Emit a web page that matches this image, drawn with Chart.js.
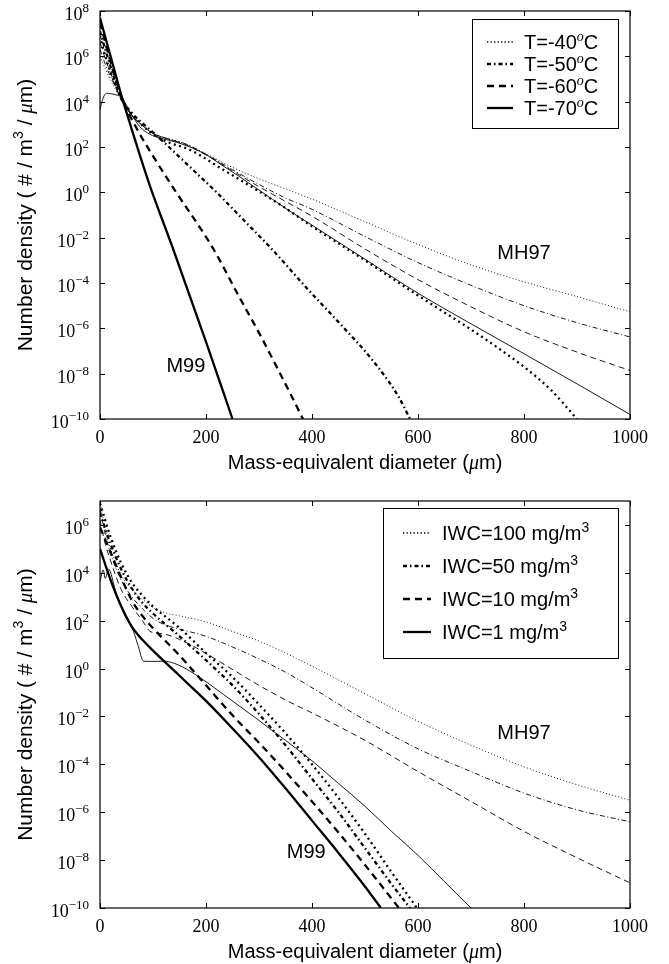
<!DOCTYPE html>
<html>
<head>
<meta charset="utf-8">
<title>Ice particle size distributions</title>
<script src="https://cdn.jsdelivr.net/npm/chart.js@4.4.1/dist/chart.umd.min.js"></script>
<style>
  html, body { margin: 0; padding: 0; background: #fff; }
  canvas { display: block; }
</style>
</head>
<body>
<canvas id="byTemp" width="669" height="482"></canvas>
<canvas id="byIwc" width="669" height="482"></canvas>
<script>
// Axis ticks
const xTicks = [0, 200, 400, 600, 800, 1000];
const yExpTemp = [-10, -8, -6, -4, -2, 0, 2, 4, 6, 8];
const yExpIwc = [-10, -8, -6, -4, -2, 0, 2, 4, 6];

// Legend labels
const tempLabels = ['T=-40', 'T=-50', 'T=-60', 'T=-70'];
const iwcLabels = ['IWC=100 mg/m', 'IWC=50 mg/m', 'IWC=10 mg/m', 'IWC=1 mg/m'];

// Diameters in um, number densities as log10(#/m3/um)
// --- temperature panel, MH97 (thin)
const dThinT = [0, 10, 20, 30, 40, 60, 80, 100, 130, 160, 200, 250, 300, 350, 400, 500, 600, 700, 800, 900, 1000];
const mh97T40 = [6.0, 5.45, 4.95, 4.5, 4.1, 3.4, 2.95, 2.6, 2.35, 2.15, 1.7, 1.1, 0.6, 0.15, -0.3, -1.3, -2.3, -3.2, -3.95, -4.6, -5.27];
const mh97T50 = [6.3, 5.65, 5.1, 4.6, 4.1, 3.4, 2.95, 2.6, 2.35, 2.15, 1.68, 1.0, 0.35, -0.25, -0.75, -1.95, -3.1, -4.1, -5.0, -5.75, -6.38];
const mh97T60 = [6.6, 5.9, 5.25, 4.65, 4.1, 3.4, 2.95, 2.6, 2.35, 2.12, 1.65, 0.95, 0.25, -0.4, -1.05, -2.5, -3.85, -5.05, -6.15, -7.05, -7.86];
const dThinT70 = [0, 5, 12, 20, 30, 41, 55, 75, 95, 110, 130, 151, 175, 201, 230, 264, 300, 350, 400, 500, 600, 700, 800, 900, 1000];
const mh97T70 = [3.65, 4.1, 4.37, 4.35, 4.3, 4.2, 3.6, 2.9, 2.55, 2.42, 2.3, 2.16, 1.95, 1.65, 1.2, 0.68, 0.1, -0.7, -1.45, -2.95, -4.45, -5.8, -7.12, -8.45, -9.8];
// --- temperature panel, M99 (thick)
const dM99T40 = [0, 10, 20, 30, 40, 60, 80, 107, 130, 170, 233, 296, 350, 400, 500, 600, 650, 700, 750, 800, 850, 900];
const m99T40 = [6.9, 6.0, 5.3, 4.7, 4.15, 3.45, 2.95, 2.46, 2.2, 1.87, 0.99, 0.1, -0.7, -1.5, -3.0, -4.55, -5.3, -6.05, -6.85, -7.7, -8.7, -10];
const dM99T50 = [0, 10, 20, 30, 40, 60, 80, 100, 130, 175, 220, 270, 324, 393, 457, 514, 563, 585];
const m99T50 = [7.1, 6.3, 5.55, 4.8, 4.15, 3.5, 3.05, 2.65, 2.0, 1.0, 0.0, -1.2, -2.5, -4.3, -5.9, -7.4, -9.0, -10];
const dM99T60 = [0, 10, 20, 30, 45, 72, 100, 141, 214, 260, 300, 340, 383];
const m99T60 = [7.5, 6.6, 5.75, 4.95, 3.95, 2.7, 1.6, 0.1, -2.5, -4.5, -6.2, -8.0, -10];
const dM99T70 = [0, 10, 20, 30, 41, 57, 75, 94, 138, 200, 250];
const m99T70 = [7.7, 6.85, 6.0, 5.15, 4.22, 3.0, 1.65, 0.3, -2.5, -6.6, -10];

// --- IWC panel, MH97 (thin)
const dThinIwc = [0, 10, 20, 40, 60, 80, 100, 120, 150, 200, 250, 300, 350, 400, 500, 600, 700, 800, 900, 1000];
const mh97Iwc100 = [7.0, 5.8, 5.0, 3.9, 3.3, 2.9, 2.55, 2.35, 2.2, 1.95, 1.55, 1.15, 0.65, 0.1, -1.05, -2.2, -3.2, -4.1, -4.85, -5.5];
const mh97Iwc50 = [6.7, 5.6, 4.8, 3.7, 3.0, 2.5, 2.1, 1.85, 1.65, 1.35, 0.9, 0.4, -0.15, -0.8, -2.15, -3.35, -4.3, -5.2, -5.9, -6.4];
const dThinIwc10 = [0, 10, 20, 40, 60, 80, 94, 110, 132, 150, 182, 245, 300, 358, 400, 500, 600, 700, 800, 900, 1000];
const mh97Iwc10 = [6.2, 5.2, 4.5, 3.3, 2.6, 2.0, 1.56, 1.48, 1.38, 1.22, 0.86, 0.03, -0.7, -1.4, -1.85, -3.0, -4.3, -5.55, -6.8, -7.9, -8.95];
const dThinIwc1 = [0, 6, 10, 16, 30, 45, 63, 72, 82, 100, 120, 140, 170, 200, 233, 296, 350, 400, 450, 500, 550, 600, 650, 700];
const mh97Iwc1 = [3.64, 4.12, 3.77, 4.15, 3.2, 2.3, 1.56, 0.95, 0.31, 0.3, 0.31, 0.22, -0.11, -0.55, -1.08, -2.1, -3.0, -3.85, -4.8, -5.75, -6.8, -7.8, -8.9, -10];
// --- IWC panel, M99 (thick)
const dM99Iwc100 = [0, 20, 40, 60, 80, 100, 150, 200, 250, 300, 350, 400, 450, 500, 550, 598];
const m99Iwc100 = [6.9, 5.5, 4.4, 3.6, 3.05, 2.6, 1.7, 0.65, -0.35, -1.5, -2.7, -4.0, -5.4, -6.9, -8.5, -10];
const dM99Iwc50 = [0, 20, 40, 60, 80, 100, 150, 200, 250, 300, 350, 400, 450, 500, 550, 585];
const m99Iwc50 = [6.5, 5.2, 4.15, 3.35, 2.75, 2.3, 1.35, 0.35, -0.7, -1.9, -3.2, -4.6, -6.0, -7.5, -9.0, -10];
const dM99Iwc10 = [0, 20, 40, 60, 80, 100, 150, 200, 250, 300, 350, 400, 450, 500, 564];
const m99Iwc10 = [5.9, 4.85, 3.8, 2.85, 2.2, 1.69, 0.55, -0.7, -1.95, -3.1, -4.3, -5.55, -6.85, -8.2, -10];
const dM99Iwc1 = [0, 20, 40, 60, 80, 100, 150, 200, 250, 300, 350, 400, 450, 500, 530];
const m99Iwc1 = [5.0, 3.7, 2.6, 1.75, 1.2, 0.75, -0.3, -1.35, -2.5, -3.7, -5.0, -6.35, -7.7, -9.1, -10];

const SANS = '"Liberation Sans", Arial, sans-serif';
const SERIF = '"Liberation Serif", "Times New Roman", serif';
const TICK_FONT = '18px ' + SERIF;
const EXP_FONT = '13px ' + SERIF;
const LABEL_FONT = '20px ' + SANS;
const YLABEL_FONT = '21px ' + SANS;
const LEGEND_FONT = '20px ' + SANS;
const SUP_FONT = '14px ' + SANS;
const MU_FONT = 'italic 20px ' + SERIF;

const DASH = {
  thin: { dotted: [1, 2.2], dashdot: [5, 2.5, 1, 2.5], dashed: [6, 4], solid: [] },
  thick: { dotted: [2, 3.5], dashdot: [4, 3, 1.5, 3], dashed: [7, 5], solid: [] }
};
const STYLES = ['dotted', 'dashdot', 'dashed', 'solid'];

function curve(d, logN) {
  return d.map((v, i) => ({ x: v, y: Math.pow(10, logN[i]) }));
}

function line(d, logN, style, thick) {
  return {
    data: curve(d, logN),
    borderColor: '#000',
    borderWidth: thick ? 2.3 : 0.9,
    borderDash: DASH[thick ? 'thick' : 'thin'][style],
    borderCapStyle: 'butt',
    pointRadius: 0,
    fill: false,
    cubicInterpolationMode: 'monotone'
  };
}

// text made of runs with their own font and baseline shift
function drawRuns(ctx, runs, x, y, align) {
  let total = 0;
  runs.forEach(r => { ctx.font = r.font; r.w = ctx.measureText(r.text).width; total += r.w; });
  let cx = align === 'center' ? x - total / 2 : align === 'right' ? x - total : x;
  runs.forEach(r => {
    ctx.font = r.font;
    ctx.fillText(r.text, cx, y - (r.rise || 0));
    cx += r.w;
  });
}

const panelDecor = {
  id: 'panelDecor',
  afterDatasetsDraw(chart, args, opts) {
    const { ctx, chartArea: a } = chart;
    const x = chart.scales.x, y = chart.scales.y;
    ctx.save();
    ctx.strokeStyle = '#000';
    ctx.fillStyle = '#000';
    ctx.setLineDash([]);

    // frame and inward ticks on all sides
    ctx.lineWidth = 1.2;
    ctx.strokeRect(a.left, a.top, a.right - a.left, a.bottom - a.top);
    ctx.lineWidth = 1;
    ctx.beginPath();
    xTicks.forEach(v => {
      const px = Math.round(x.getPixelForValue(v)) + 0.5;
      ctx.moveTo(px, a.bottom); ctx.lineTo(px, a.bottom - 5);
      ctx.moveTo(px, a.top); ctx.lineTo(px, a.top + 5);
    });
    opts.exps.forEach(e => {
      const py = Math.round(y.getPixelForValue(Math.pow(10, e))) + 0.5;
      ctx.moveTo(a.left, py); ctx.lineTo(a.left + 5, py);
      ctx.moveTo(a.right, py); ctx.lineTo(a.right - 5, py);
    });
    ctx.stroke();

    // tick labels
    ctx.textAlign = 'left';
    ctx.textBaseline = 'alphabetic';
    xTicks.forEach(v => {
      drawRuns(ctx, [{ text: String(v), font: TICK_FONT }], x.getPixelForValue(v), a.bottom + 24, 'center');
    });
    opts.exps.forEach(e => {
      const py = y.getPixelForValue(Math.pow(10, e));
      const ex = e < 0 ? '\u2212' + (-e) : String(e);
      drawRuns(ctx, [{ text: '10', font: TICK_FONT }, { text: ex, font: EXP_FONT, rise: 8 }], a.left - 11, py + 9, 'right');
    });

    // axis titles
    drawRuns(ctx, [
      { text: 'Mass-equivalent diameter (', font: LABEL_FONT },
      { text: '\u03bc', font: MU_FONT },
      { text: 'm)', font: LABEL_FONT }
    ], (a.left + a.right) / 2, a.bottom + 50, 'center');

    ctx.save();
    ctx.translate(32, (a.top + a.bottom) / 2);
    ctx.rotate(-Math.PI / 2);
    drawRuns(ctx, [
      { text: 'Number density ( # / m', font: YLABEL_FONT },
      { text: '3', font: SUP_FONT, rise: 9 },
      { text: ' / ', font: YLABEL_FONT },
      { text: '\u03bc', font: 'italic 21px ' + SERIF },
      { text: 'm)', font: YLABEL_FONT }
    ], 0, 0, 'center');
    ctx.restore();

    // curve family names
    ctx.textBaseline = 'middle';
    opts.notes.forEach(n => {
      drawRuns(ctx, [{ text: n.text, font: '20px ' + SANS }], x.getPixelForValue(n.x), y.getPixelForValue(n.y), 'center');
    });
    ctx.textBaseline = 'alphabetic';

    // legend
    const L = opts.legend;
    ctx.fillStyle = '#fff';
    ctx.fillRect(L.box[0], L.box[1], L.box[2] - L.box[0], L.box[3] - L.box[1]);
    ctx.strokeStyle = '#000';
    ctx.lineWidth = 1;
    ctx.strokeRect(L.box[0] + 0.5, L.box[1] + 0.5, L.box[2] - L.box[0], L.box[3] - L.box[1]);
    ctx.fillStyle = '#000';
    L.labels.forEach((lab, i) => {
      const ry = L.rows[i];
      const st = STYLES[i];
      ctx.beginPath();
      ctx.lineWidth = st === 'dotted' ? 1.3 : 2.3;
      ctx.setLineDash(st === 'dotted' ? [1.3, 2.2] : DASH.thick[st]);
      ctx.moveTo(L.sample[0], ry);
      ctx.lineTo(L.sample[1], ry);
      ctx.stroke();
      ctx.setLineDash([]);
      drawRuns(ctx, [
        { text: lab, font: LEGEND_FONT },
        { text: L.sup, font: L.supFont, rise: 8 },
        { text: L.tail, font: LEGEND_FONT }
      ], L.textX, ry + 7, 'left');
    });
    ctx.restore();
  }
};

function makePanel(id, datasets, yMax, exps, pad, legend, notes) {
  return new Chart(document.getElementById(id), {
    type: 'line',
    data: { datasets },
    options: {
      responsive: false,
      animation: false,
      events: [],
      layout: { padding: pad },
      plugins: {
        legend: { display: false },
        tooltip: { enabled: false },
        panelDecor: { exps, legend, notes }
      },
      scales: {
        x: { type: 'linear', min: 0, max: 1000, display: false },
        y: { type: 'logarithmic', min: 1e-10, max: yMax, display: false }
      }
    },
    plugins: [panelDecor]
  });
}

makePanel('byTemp', [
  line(dThinT, mh97T40, 'dotted', false),
  line(dThinT, mh97T50, 'dashdot', false),
  line(dThinT, mh97T60, 'dashed', false),
  line(dThinT70, mh97T70, 'solid', false),
  line(dM99T40, m99T40, 'dotted', true),
  line(dM99T50, m99T50, 'dashdot', true),
  line(dM99T60, m99T60, 'dashed', true),
  line(dM99T70, m99T70, 'solid', true)
], 1e8, yExpTemp,
  { left: 100, right: 39, top: 11, bottom: 63 },
  { box: [472, 19, 618, 128], rows: [42, 64, 86, 108], sample: [487, 513], textX: 524,
    labels: tempLabels, sup: 'o', supFont: 'italic 14px ' + SERIF, tail: 'C' },
  [{ text: 'MH97', x: 800, y: Math.pow(10, -2.7) }, { text: 'M99', x: 162, y: Math.pow(10, -7.7) }]
);

makePanel('byIwc', [
  line(dThinIwc, mh97Iwc100, 'dotted', false),
  line(dThinIwc, mh97Iwc50, 'dashdot', false),
  line(dThinIwc10, mh97Iwc10, 'dashed', false),
  line(dThinIwc1, mh97Iwc1, 'solid', false),
  line(dM99Iwc100, m99Iwc100, 'dotted', true),
  line(dM99Iwc50, m99Iwc50, 'dashdot', true),
  line(dM99Iwc10, m99Iwc10, 'dashed', true),
  line(dM99Iwc1, m99Iwc1, 'solid', true)
], 1e7, yExpIwc,
  { left: 100, right: 39, top: 19, bottom: 56 },
  { box: [383, 26, 618, 176], rows: [51, 84, 117, 150], sample: [403, 431], textX: 442,
    labels: iwcLabels, sup: '3', supFont: SUP_FONT, tail: '' },
  [{ text: 'MH97', x: 800, y: Math.pow(10, -2.7) }, { text: 'M99', x: 389, y: Math.pow(10, -7.7) }]
);
</script>
</body>
</html>
